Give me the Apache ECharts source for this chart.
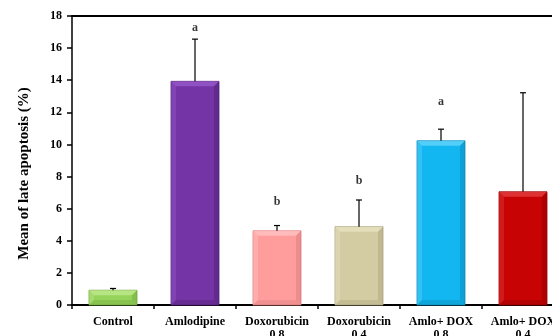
<!DOCTYPE html>
<html>
<head>
<meta charset="utf-8">
<script src="https://cdn.jsdelivr.net/npm/echarts@6/dist/echarts.min.js"></script>
<style>
  html, body { margin: 0; padding: 0; background: #ffffff; }
  #chart { width: 552px; height: 336px; }
</style>
</head>
<body>
<div id="chart"></div>
<script>
// Treatment groups
var categories = ['Control', 'Amlodipine', 'Doxorubicin\n0.8', 'Doxorubicin\n0.4', 'Amlo+ DOX\n0.8', 'Amlo+ DOX\n0.4'];
// Mean late apoptosis (%)
var means = [0.92, 13.93, 4.62, 4.88, 10.23, 7.05];
// Upper end of the error bar (mean + SD)
var errorTops = [1.03, 16.56, 4.95, 6.54, 10.95, 13.22];
// Significance letters and the height they sit at
var letters = ['', 'a', 'b', 'b', 'a', ''];
var letterHeights = [null, 17.25, 6.45, 7.7, 12.65, null];
// Y-axis range
var yMin = 0, yMax = 18, yStep = 2;

var barColors = [
  { base: '#96d35a', light: '#c4ec95', dark: '#6ea53a' },
  { base: '#7434a6', light: '#9c5fcf', dark: '#4e1f74' },
  { base: '#ff9d9d', light: '#ffc8c8', dark: '#d77878' },
  { base: '#d3cba2', light: '#ebe5c6', dark: '#a9a27c' },
  { base: '#12b6f0', light: '#6fd8fb', dark: '#0a86b5' },
  { base: '#c80303', light: '#e84848', dark: '#8e0000' }
];

var font = '"Liberation Serif", "Times New Roman", serif';

// Bevelled bar shape drawn from the category scale
function renderBar(params, api) {
  var i = api.value(0);
  var top = api.coord([i, api.value(1)]);
  var base = api.coord([i, 0]);
  var band = api.size([1, 0])[0];
  var w = band * 0.585;
  var x0 = top[0] - w / 2, x1 = top[0] + w / 2;
  var y0 = top[1], y1 = base[1];
  var h = y1 - y0;
  var b = Math.min(5, h / 2.5);
  var c = barColors[i];
  return {
    type: 'group',
    children: [
      { type: 'rect', shape: { x: x0, y: y0, width: w, height: h },
        style: { fill: c.base, stroke: c.dark, lineWidth: 0.8 } },
      // top bevel
      { type: 'polygon', shape: { points: [[x0, y0], [x1, y0], [x1 - b, y0 + b], [x0 + b, y0 + b]] },
        style: { fill: c.light, opacity: 0.7 } },
      // left bevel
      { type: 'polygon', shape: { points: [[x0, y0], [x0 + b, y0 + b], [x0 + b, y1 - b], [x0, y1]] },
        style: { fill: c.light, opacity: 0.35 } },
      // right bevel
      { type: 'polygon', shape: { points: [[x1, y0], [x1, y1], [x1 - b, y1 - b], [x1 - b, y0 + b]] },
        style: { fill: c.dark, opacity: 0.45 } },
      // bottom bevel
      { type: 'polygon', shape: { points: [[x0, y1], [x0 + b, y1 - b], [x1 - b, y1 - b], [x1, y1]] },
        style: { fill: c.dark, opacity: 0.35 } }
    ]
  };
}

// Upper error whisker with a cap
function renderError(params, api) {
  var i = api.value(0);
  var lo = api.coord([i, api.value(1)]);
  var hi = api.coord([i, api.value(2)]);
  var cap = 3;
  return {
    type: 'group',
    children: [
      { type: 'line', shape: { x1: lo[0], y1: lo[1], x2: hi[0], y2: hi[1] },
        style: { stroke: '#000', lineWidth: 1.2 } },
      { type: 'line', shape: { x1: hi[0] - cap, y1: hi[1], x2: hi[0] + cap, y2: hi[1] },
        style: { stroke: '#000', lineWidth: 1.2 } }
    ]
  };
}

var chart = echarts.init(document.getElementById('chart'), null, { renderer: 'canvas' });

chart.setOption({
  animation: false,
  backgroundColor: '#ffffff',
  grid: { left: 72, top: 16, width: 492, height: 289, containLabel: false, outerBoundsMode: 'none' },
  xAxis: [{
    type: 'category',
    data: categories,
    position: 'bottom',
    axisLine: { lineStyle: { color: '#000', width: 2 } },
    axisTick: { show: true, length: 4, inside: false, lineStyle: { color: '#000', width: 1.5 } },
    axisLabel: {
      color: '#000', fontFamily: font, fontWeight: 'bold', fontSize: 12,
      lineHeight: 13, margin: 10, interval: 0
    }
  }, {
    type: 'category',
    data: categories,
    position: 'top',
    axisLine: { show: true, lineStyle: { color: '#000', width: 2 } },
    axisTick: { show: false },
    axisLabel: { show: false }
  }],
  yAxis: {
    type: 'value',
    min: yMin, max: yMax, interval: yStep,
    name: 'Mean of late apoptosis (%)',
    nameLocation: 'middle',
    nameGap: 40,
    nameTextStyle: {
      color: '#000', fontFamily: font, fontWeight: 'bold', fontSize: 15,
      padding: [0, 26, 0, 0]
    },
    axisLine: { show: true, lineStyle: { color: '#000', width: 1.5 } },
    axisTick: { show: true, length: 5, lineStyle: { color: '#000', width: 1.5 } },
    splitLine: { show: false },
    axisLabel: { color: '#000', fontFamily: font, fontWeight: 'bold', fontSize: 12, margin: 10 }
  },
  series: [{
    type: 'custom',
    renderItem: renderBar,
    data: means.map(function (v, i) { return [i, v]; }),
    encode: { x: 0, y: 1 },
    z: 2
  }, {
    type: 'custom',
    renderItem: renderError,
    data: means.map(function (v, i) { return [i, v, errorTops[i]]; }),
    encode: { x: 0, y: [1, 2] },
    z: 3
  }, {
    type: 'scatter',
    symbolSize: 0,
    data: letterHeights.map(function (v, i) { return v === null ? null : [i, v]; }).filter(function (d) { return d; }),
    label: {
      show: true, position: 'inside',
      formatter: function (p) { return letters[p.value[0]]; },
      color: '#000', fontFamily: font, fontWeight: 'bold', fontSize: 12
    },
    z: 4
  }]
});
</script>
</body>
</html>
